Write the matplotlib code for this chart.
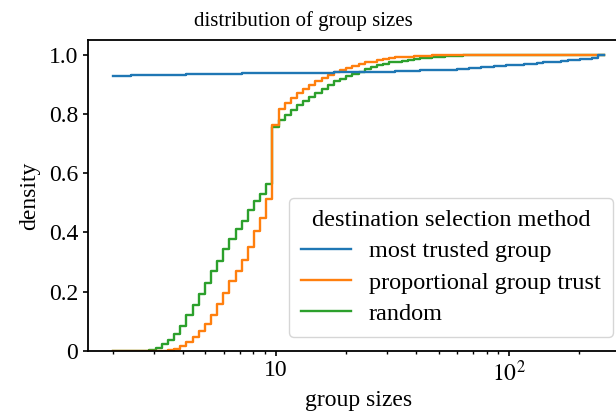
import numpy as np
import matplotlib
matplotlib.use("Agg")
import matplotlib.pyplot as plt

plt.rcParams['font.family'] = ['Liberation Serif', 'DejaVu Serif']
plt.rcParams['mathtext.fontset'] = 'stix'

# bins (log-spaced, shared by the three methods)
bin_edges = np.geomspace(2, 256, 81)

methods = ["most trusted group", "proportional group trust", "random"]
couleurs = ["#1f77b4", "#ff7f0e", "#2ca02c"]

# cumulative density per bin
cdf_most_trusted = [
    0.930, 0.930, 0.930, 0.931, 0.931, 0.931, 0.932, 0.932, 0.932, 0.933,
    0.933, 0.933, 0.934, 0.934, 0.934, 0.935, 0.935, 0.935, 0.936, 0.936,
    0.936, 0.937, 0.937, 0.937, 0.938, 0.938, 0.938, 0.938, 0.939, 0.939,
    0.939, 0.939, 0.940, 0.940, 0.940, 0.940, 0.941, 0.941, 0.941, 0.941,
    0.942, 0.942, 0.942, 0.943, 0.943, 0.943, 0.944, 0.945, 0.946, 0.946,
    0.947, 0.948, 0.948, 0.949, 0.950, 0.950, 0.951, 0.953, 0.955, 0.957,
    0.958, 0.960, 0.961, 0.963, 0.964, 0.965, 0.967, 0.968, 0.970, 0.972,
    0.974, 0.975, 0.977, 0.979, 0.981, 0.983, 0.985, 0.987, 0.990, 1.000,
]
cdf_proportional = [
    0.0, 0.0, 0.0, 0.0, 0.0, 0.0, 0.0, 0.0, 0.0, 0.002,
    0.006, 0.016, 0.028, 0.045, 0.066, 0.090, 0.122, 0.158, 0.194, 0.235,
    0.271, 0.307, 0.350, 0.403, 0.450, 0.514, 0.763, 0.818, 0.836, 0.853,
    0.870, 0.884, 0.898, 0.912, 0.923, 0.933, 0.943, 0.949, 0.955, 0.963,
    0.968, 0.974, 0.977, 0.983, 0.986, 0.989, 0.992, 0.993, 0.994, 0.995,
    0.996, 0.997, 0.998, 0.998, 0.999, 1.0, 1.0, 1.0, 1.0, 1.0,
    1.0, 1.0, 1.0, 1.0, 1.0, 1.0, 1.0, 1.0, 1.0, 1.0,
    1.0, 1.0, 1.0, 1.0, 1.0, 1.0, 1.0, 1.0, 1.0, 1.0,
]
cdf_random = [
    0.0, 0.0, 0.0, 0.0, 0.0, 0.0, 0.003, 0.010, 0.021, 0.037,
    0.058, 0.085, 0.120, 0.156, 0.192, 0.229, 0.268, 0.304, 0.343, 0.377,
    0.410, 0.438, 0.474, 0.506, 0.531, 0.563, 0.757, 0.780, 0.797, 0.814,
    0.829, 0.844, 0.859, 0.872, 0.885, 0.898, 0.910, 0.919, 0.927, 0.934,
    0.943, 0.951, 0.958, 0.964, 0.969, 0.974, 0.977, 0.980, 0.983, 0.986,
    0.988, 0.990, 0.992, 0.994, 0.995, 0.996, 0.997, 0.998, 0.998, 0.999,
    0.999, 1.0, 1.0, 1.0, 1.0, 1.0, 1.0, 1.0, 1.0, 1.0,
    1.0, 1.0, 1.0, 1.0, 1.0, 1.0, 1.0, 1.0, 1.0, 1.0,
]
series = [cdf_most_trusted, cdf_proportional, cdf_random]

fig = plt.figure(figsize=(6.16, 4.13), dpi=100)
ax = fig.add_axes([88 / 616, 1 - 350.7 / 413, (629 - 88) / 616, (350.7 - 40) / 413])

# tracé en ordre inverse (comme seaborn) : la première méthode reste au-dessus
lignes = {}
for nom, vals, c in reversed(list(zip(methods, series, couleurs))):
    y = np.append(vals, vals[-1])
    (l,) = ax.plot(bin_edges, y, drawstyle='steps-post', color=c, lw=1.7)
    lignes[nom] = l

ax.set_xscale('log')
span = np.log10(bin_edges[-1]) - np.log10(bin_edges[0])
ax.set_xlim(10 ** (np.log10(bin_edges[0]) - 0.05 * span), 10 ** (np.log10(bin_edges[-1]) + 0.05 * span))
ax.set_ylim(0, 1.05)

ax.set_xticks([10, 100], ['10', r'$10^2$'])
ax.set_yticks([0, 0.2, 0.4, 0.6, 0.8, 1.0], ['0', '0.2', '0.4', '0.6', '0.8', '1.0'])
ax.tick_params(labelsize=17, width=1.2)
ax.tick_params(which='minor', width=1.0)
for s in ax.spines.values():
    s.set_linewidth(1.3)

ax.set_xlabel('group sizes', fontsize=17, labelpad=3)
ax.set_ylabel('density', fontsize=17, labelpad=6)
fig.text(0.492, 1 - 11 / 413, 'distribution of group sizes', ha='center', va='top', fontsize=15)

leg = ax.legend([lignes[m] for m in methods], methods, title='destination selection method',
                loc='lower right', bbox_to_anchor=(613 / 616, 1 - 337 / 413),
                bbox_transform=fig.transFigure, borderaxespad=0,
                fontsize=17.5, title_fontsize=17.5, handlelength=2.05,
                labelspacing=0.38, handletextpad=0.74, borderpad=0.5)
leg.get_frame().set_edgecolor('#cccccc')

fig.savefig('out.png', dpi=100)
